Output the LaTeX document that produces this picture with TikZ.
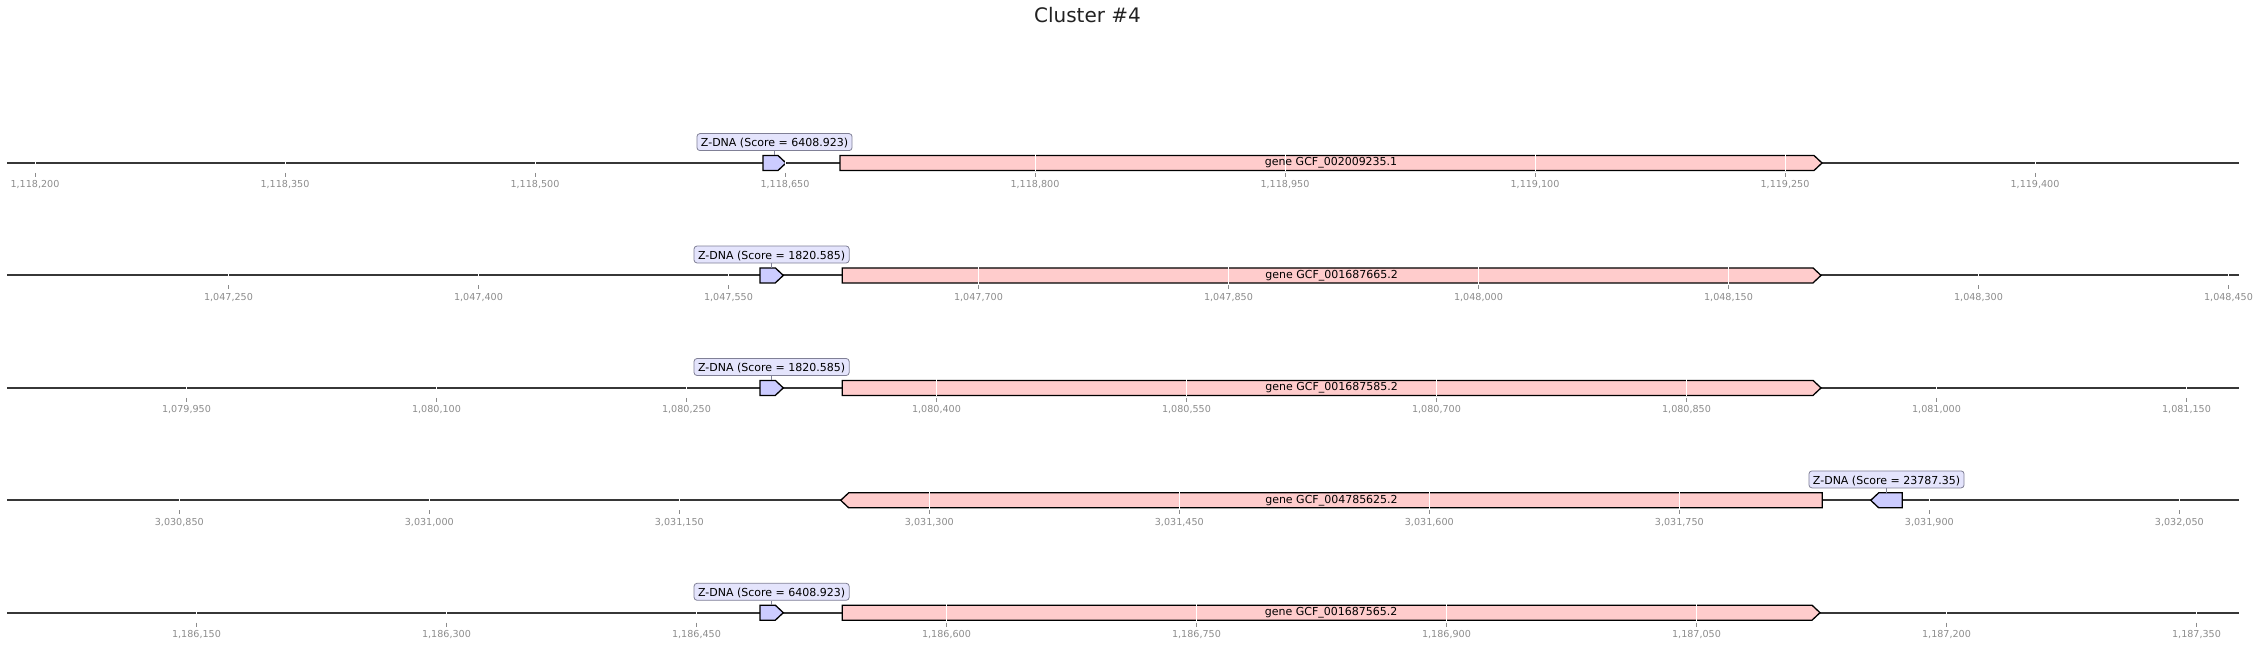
\documentclass[tikz,border=0pt]{standalone}
\usepackage{fontspec}
\setmainfont{DejaVu Sans}
\definecolor{axisgray}{RGB}{55,55,55}
\definecolor{tickgray}{RGB}{140,140,140}
\definecolor{zfill}{RGB}{204,204,255}
\definecolor{gfill}{RGB}{255,204,204}
\definecolor{boxfill}{RGB}{228,228,252}
\definecolor{boxdraw}{RGB}{128,128,150}
\definecolor{titlegray}{RGB}{34,34,34}
\tikzset{
  axisline/.style={draw=axisgray, line width=2pt},
  feat/.style={draw=black, line width=1.3pt, line join=miter},
  gridw/.style={draw=white, line width=1pt},
  tickmark/.style={draw=tickgray, line width=0.8pt},
  ticklabel/.style={text=tickgray, anchor=base, inner sep=0pt, font=\fontsize{9.6}{11}\selectfont},
  zlabel/.style={draw=boxdraw, fill=boxfill, rounded corners=3pt, line width=0.8pt,
    inner xsep=4pt, inner ysep=3.25pt, text height=10pt, text depth=0.5pt,
    font=\fontsize{11}{13}\selectfont, anchor=south},
  glabel/.style={inner sep=0pt, font=\fontsize{11}{13}\selectfont, anchor=center},
  conn/.style={draw=boxdraw, line width=0.8pt},
}
% forward / reverse arrow features: x0, x1, y, fill
\newcommand\fwdfeat[4]{\draw[feat,fill=#4] (#1,#3-7.5) -- (#2-8,#3-7.5) -- (#2,#3) -- (#2-8,#3+7.5) -- (#1,#3+7.5) -- cycle;}
\newcommand\revfeat[4]{\draw[feat,fill=#4] (#1,#3) -- (#1+8,#3-7.5) -- (#2,#3-7.5) -- (#2,#3+7.5) -- (#1+8,#3+7.5) -- cycle;}
% ticks: row name, y, x0, list of labels
\newcommand\rowticks[4]{%
  \foreach \l [count=\k from 0] in {#4} {
    \pgfmathsetmacro\tx{#3+250*\k}
    \draw[gridw] (\tx,#2-8.5) -- (\tx,#2+8.5);
    \draw[tickmark] (\tx,#2+10) -- (\tx,#2+14);
    \node[ticklabel] (tick-#1-\k) at (\tx,#2+25) {\l};
  }%
}
\begin{document}
\begin{tikzpicture}[x=1pt,y=-1pt]
\useasboundingbox (0,0) rectangle (2261,647);
\node[font=\fontsize{20}{24}\selectfont, text=titlegray, anchor=base, inner sep=0pt] (title) at (1087.5,23) {Cluster \#4};

% axis lines
\foreach \y [count=\r] in {163,275.4,387.9,500.3,612.7} {
  \coordinate (la\r) at (7,\y);
  \coordinate (lb\r) at (2239,\y);
  \draw[axisline] (la\r) -- (lb\r);
}

% features
\fwdfeat{763}{786}{163}{zfill}
\fwdfeat{840}{1822}{163}{gfill}
\fwdfeat{760}{783.3}{275.4}{zfill}
\fwdfeat{842.3}{1821}{275.4}{gfill}
\fwdfeat{760}{783.3}{387.9}{zfill}
\fwdfeat{842.3}{1821}{387.9}{gfill}
\revfeat{840.7}{1822.3}{500.3}{gfill}
\revfeat{1870.7}{1902.3}{500.3}{zfill}
\fwdfeat{760}{783.3}{612.7}{zfill}
\fwdfeat{842.3}{1820}{612.7}{gfill}

% ticks
\rowticks{a}{163}{35}{{1,118,200},{1,118,350},{1,118,500},{1,118,650},{1,118,800},{1,118,950},{1,119,100},{1,119,250},{1,119,400}}
\rowticks{b}{275.4}{228.5}{{1,047,250},{1,047,400},{1,047,550},{1,047,700},{1,047,850},{1,048,000},{1,048,150},{1,048,300},{1,048,450}}
\rowticks{c}{387.9}{186.5}{{1,079,950},{1,080,100},{1,080,250},{1,080,400},{1,080,550},{1,080,700},{1,080,850},{1,081,000},{1,081,150}}
\rowticks{d}{500.3}{179.3}{{3,030,850},{3,031,000},{3,031,150},{3,031,300},{3,031,450},{3,031,600},{3,031,750},{3,031,900},{3,032,050}}
\rowticks{e}{612.7}{196.5}{{1,186,150},{1,186,300},{1,186,450},{1,186,600},{1,186,750},{1,186,900},{1,187,050},{1,187,200},{1,187,350}}

% gene labels
\node[glabel] (g1) at (1331,163) {gene GCF\_002009235.1};
\node[glabel] (g2) at (1331.6,275.4) {gene GCF\_001687665.2};
\node[glabel] (g3) at (1331.6,387.9) {gene GCF\_001687585.2};
\node[glabel] (g4) at (1331.5,500.3) {gene GCF\_004785625.2};
\node[glabel] (g5) at (1331.1,612.7) {gene GCF\_001687565.2};

% Z-DNA labels
\node[zlabel] (z1) at (774.5,163-12) {Z-DNA (Score = 6408.923)};
\coordinate (z1f) at (774.5,163-7.5);
\draw[conn] (z1.south) -- (z1f);
\node[zlabel] (z2) at (771.6,275.4-12) {Z-DNA (Score = 1820.585)};
\coordinate (z2f) at (771.6,275.4-7.5);
\draw[conn] (z2.south) -- (z2f);
\node[zlabel] (z3) at (771.6,387.9-12) {Z-DNA (Score = 1820.585)};
\coordinate (z3f) at (771.6,387.9-7.5);
\draw[conn] (z3.south) -- (z3f);
\node[zlabel] (z4) at (1886.5,500.3-12) {Z-DNA (Score = 23787.35)};
\coordinate (z4f) at (1886.5,500.3-7.5);
\draw[conn] (z4.south) -- (z4f);
\node[zlabel] (z5) at (771.6,612.7-12) {Z-DNA (Score = 6408.923)};
\coordinate (z5f) at (771.6,612.7-7.5);
\draw[conn] (z5.south) -- (z5f);
\end{tikzpicture}
\end{document}
